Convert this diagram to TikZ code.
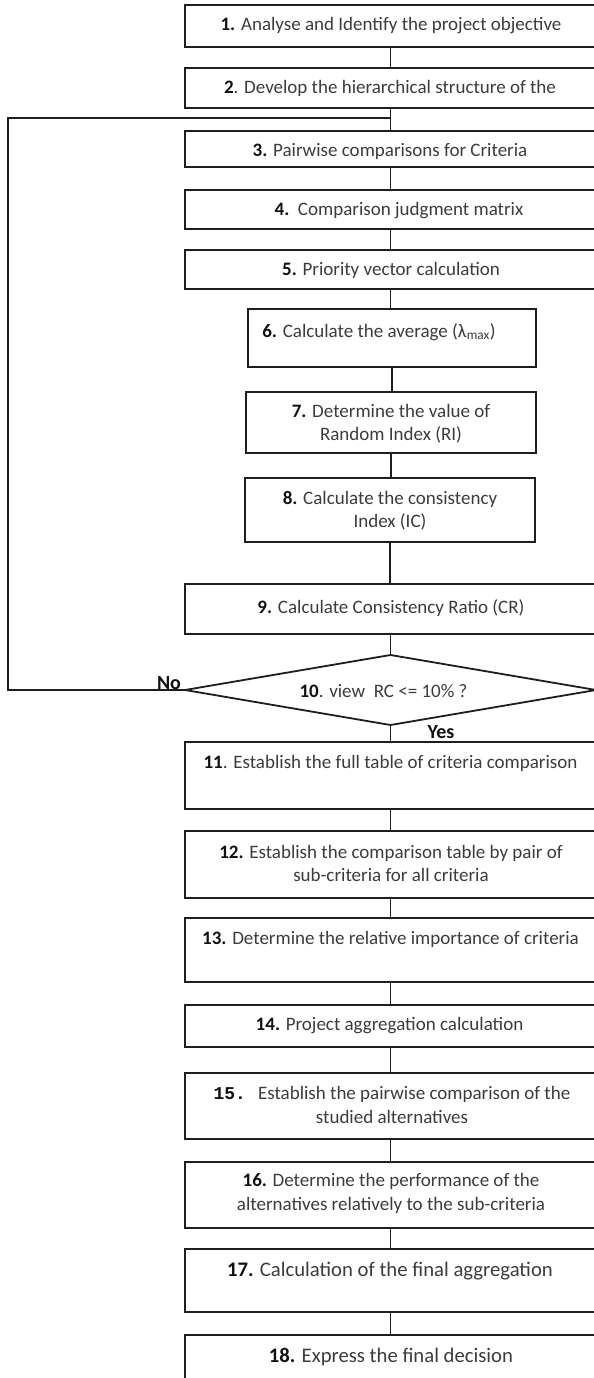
\documentclass[tikz,border=0pt]{standalone}
\usepackage{fontspec}
\setmainfont{Carlito}
\newfontfamily\monofont{Liberation Mono}
\usetikzlibrary{shapes.geometric}

\definecolor{inkline}{HTML}{1E1E1E}
\definecolor{inktext}{HTML}{3C3C3C}
\definecolor{inknum}{HTML}{111111}

% bold step number
\newcommand{\stepno}[1]{\textbf{\color{inknum}#1}}
% rectangle from its left, top, right and bottom edges
\newcommand{\mkbox}[5]{\node[box, minimum width={#4-#2}, minimum height={#5-#3}] (#1) at ({(#2+#4)/2},{(#3+#5)/2}) {};}

\begin{document}
\begin{tikzpicture}[x=1pt,y=-1pt,
  box/.style={draw=inkline, line width=1.8pt, rectangle, inner sep=0pt, outer sep=0pt},
  txt/.style={inner sep=0pt, align=center, text=inktext, font=\fontsize{19}{23.5}\selectfont},
  bigtxt/.style={txt, font=\fontsize{20.7}{25}\selectfont},
  link/.style={draw=inkline, line width=1.6pt},
  decision/.style={draw=inkline, line width=1.8pt, diamond, inner sep=0pt, outer sep=0pt},
  answer/.style={inner sep=0pt, text=inknum, font=\fontsize{20}{24}\selectfont\bfseries}
]
\useasboundingbox (0,0) rectangle (594,1378);
\fill[white] (0,0) rectangle (594,1378);
\clip (0,0) rectangle (594,1378);

% process boxes
\mkbox{b1}{185}{5}{596}{47}
\mkbox{b2}{185}{68}{596}{108}
\mkbox{b3}{185}{131}{596}{167}
\mkbox{b4}{185}{190}{596}{229}
\mkbox{b5}{185}{250}{596}{289}
\mkbox{b6}{248}{309}{536}{367}
\mkbox{b7}{246}{392}{536}{453}
\mkbox{b8}{245}{478}{535}{542}
\mkbox{b9}{185}{584}{596}{634}
\node[decision, minimum width=411pt, minimum height=70pt] (d10) at (390.5,690) {};
\mkbox{b11}{185}{742}{596}{809}
\mkbox{b12}{185}{831}{596}{898}
\mkbox{b13}{185}{918}{596}{982}
\mkbox{b14}{185}{1005}{596}{1047}
\mkbox{b15}{185}{1073}{596}{1139}
\mkbox{b16}{185}{1162}{596}{1228}
\mkbox{b17}{185}{1249}{596}{1312}
\mkbox{b18}{185}{1335}{596}{1400}

% step texts
\node[txt] (t1) at (391,26) {\stepno{1.} Analyse and Identify the project objective};
\node[txt] (t2) at (390,88) {\stepno{2}. Develop the hierarchical structure of the};
\node[txt] (t3) at (390,151) {\stepno{3.} Pairwise comparisons for Criteria};
\node[txt] (t4) at (399,211) {\stepno{4.}\ \ Comparison judgment matrix};
\node[txt] (t5) at (391,270) {\stepno{5.} Priority vector calculation};
\node[txt] (t6) at (379,332) {\stepno{6.} Calculate the average (λ\textsubscript{max})};
\node[txt] (t7) at (391,423.5) {\stepno{7.} Determine the value of\\Random Index (RI)};
\node[txt] (t8) at (390,510.5) {\stepno{8.} Calculate the consistency\\Index (IC)};
\node[txt] (t9) at (391,608) {\stepno{9.} Calculate Consistency Ratio (CR)};
\node[txt] (t10) at (383.5,691) {\stepno{10}. view\ \ RC <= 10\% ?};
\node[txt] (t11) at (390.5,763) {\stepno{11}. Establish the full table of criteria comparison};
\node[txt] (t12) at (391,863.5) {\stepno{12.} Establish the comparison table by pair of\\sub-criteria for all criteria};
\node[txt] (t13) at (390.5,939) {\stepno{13.} Determine the relative importance of criteria};
\node[txt] (t14) at (389.5,1026) {\stepno{14.} Project aggregation calculation};
\node[txt] (t15) at (392,1105) {{\monofont\bfseries\fontsize{18}{23.5}\selectfont\color{inknum}15.}\hspace{12pt}Establish the pairwise comparison of the\\studied alternatives};
\node[txt] (t16) at (391,1193.5) {\stepno{16.} Determine the performance of the\\alternatives relatively to the sub-criteria};
\node[bigtxt] (t17) at (390,1271) {\stepno{17.} Calculation of the final aggregation};
\node[bigtxt] (t18) at (391,1357) {\stepno{18.} Express the final decision};

% branch labels
\node[answer] (no) at (169,683) {No};
\node[answer] (yes) at (441,732) {Yes};

% main sequence
\foreach \a/\b in {b1/b2,b2/b3,b3/b4,b4/b5,b5/b6,b6/b7,b7/b8,b8/b9,
                   b11/b12,b12/b13,b13/b14,b14/b15,b15/b16,b16/b17,b17/b18}
  \draw[link] (\a.south) -- (\a.south |- \b.north);
\draw[link] (d10.north |- b9.south) -- (d10.north);
\draw[link] (d10.south) -- (d10.south |- b11.north);

% loop back when the ratio is too high
\coordinate (join) at (390.5,118);
\coordinate (rail) at (8,118);
\draw[link] (d10.west) -- (d10.west -| rail) -- (rail) -- (join);
\end{tikzpicture}
\end{document}
